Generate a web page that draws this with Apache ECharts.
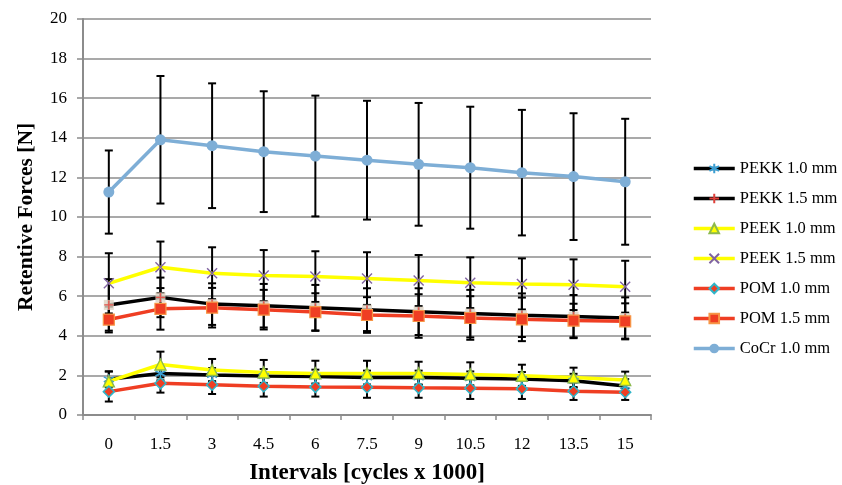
<!DOCTYPE html>
<html>
<head>
<meta charset="utf-8">
<script src="https://cdn.jsdelivr.net/npm/echarts@6/dist/echarts.min.js"></script>
<style>
  html, body { margin: 0; padding: 0; background: #fff; }
  #chart { width: 842px; height: 485px; }
</style>
</head>
<body>
<div id="chart"></div>
<script>
const categories = ["0", "1.5", "3", "4.5", "6", "7.5", "9", "10.5", "12", "13.5", "15"];

const pekk10 = [1.8, 2.1, 2.02, 1.97, 1.94, 1.89, 1.89, 1.85, 1.82, 1.73, 1.46];
const pekk10Sd = [0.4, 0.35, 0.35, 0.35, 0.35, 0.35, 0.35, 0.35, 0.35, 0.35, 0.35];
const pekk15 = [5.56, 5.94, 5.6, 5.52, 5.42, 5.32, 5.22, 5.12, 5.04, 4.97, 4.9];
const pekk15Sd = [1.3, 1.0, 1.05, 1.1, 1.15, 1.08, 1.18, 1.2, 1.1, 1.09, 1.04];
const peek10 = [1.7, 2.55, 2.27, 2.15, 2.1, 2.1, 2.1, 2.05, 1.98, 1.9, 1.77];
const peek10Sd = [0.5, 0.65, 0.56, 0.63, 0.64, 0.64, 0.59, 0.61, 0.56, 0.49, 0.42];
const peek15 = [6.65, 7.46, 7.16, 7.04, 6.99, 6.89, 6.79, 6.68, 6.62, 6.58, 6.48];
const peek15Sd = [1.52, 1.3, 1.31, 1.29, 1.28, 1.33, 1.29, 1.28, 1.29, 1.28, 1.31];
const pom10 = [1.18, 1.6, 1.53, 1.45, 1.42, 1.4, 1.37, 1.35, 1.32, 1.2, 1.15];
const pom10Sd = [0.5, 0.47, 0.47, 0.52, 0.49, 0.53, 0.5, 0.54, 0.51, 0.44, 0.39];
const pom15 = [4.82, 5.36, 5.42, 5.32, 5.2, 5.05, 5.0, 4.9, 4.83, 4.77, 4.73];
const pom15Sd = [0.65, 1.05, 1.0, 1.0, 0.95, 0.9, 1.1, 1.1, 1.1, 0.85, 0.91];
const cocr10 = [11.26, 13.9, 13.6, 13.3, 13.08, 12.87, 12.66, 12.49, 12.24, 12.04, 11.78];
const cocr10Sd = [2.1, 3.22, 3.15, 3.05, 3.05, 3.0, 3.1, 3.08, 3.17, 3.2, 3.18];

const yTicks = { min: 0, max: 20, interval: 2 };

const FONT = "'Liberation Serif', 'Times New Roman', serif";
const ASTERISK = "path://M5 0L5 10M0 2.5L10 7.5M0 7.5L10 2.5";
const PLUS = "path://M5 0L5 10M0 5L10 5";
const CROSS = "path://M0 0L10 10M10 0L0 10";

function errorSeries(values, sds) {
  return {
    type: "custom",
    silent: true,
    z: 1,
    data: values.map((v, i) => [i, v - sds[i], v + sds[i]]),
    encode: { x: 0, y: [1, 2] },
    renderItem: (params, api) => {
      const lo = api.coord([api.value(0), api.value(1)]);
      const hi = api.coord([api.value(0), api.value(2)]);
      const style = { stroke: "#000", lineWidth: 2 };
      return {
        type: "group",
        children: [
          { type: "line", shape: { x1: lo[0], y1: lo[1], x2: hi[0], y2: hi[1] }, style },
          { type: "line", shape: { x1: lo[0] - 4, y1: lo[1], x2: lo[0] + 4, y2: lo[1] }, style },
          { type: "line", shape: { x1: hi[0] - 4, y1: hi[1], x2: hi[0] + 4, y2: hi[1] }, style },
        ],
      };
    },
  };
}

function lineSeries(name, values, lineColor, symbol, size, itemStyle) {
  return {
    name,
    type: "line",
    z: 2,
    data: values,
    symbol,
    symbolSize: size,
    showAllSymbol: true,
    lineStyle: { color: lineColor, width: 3.5 },
    itemStyle,
    emphasis: { disabled: true },
  };
}

function overlay(values, symbol, size, itemStyle) {
  return {
    type: "scatter",
    z: 2,
    silent: true,
    data: values,
    symbol,
    symbolSize: size,
    itemStyle,
  };
}

const chart = echarts.init(document.getElementById("chart"), null, { renderer: "canvas" });

chart.setOption({
  animation: false,
  backgroundColor: "#fff",
  textStyle: { fontFamily: FONT },
  grid: { left: 83, right: 191, top: 19, bottom: 70, outerBoundsMode: "none" },
  legend: {
    orient: "vertical",
    left: 687,
    top: 155,
    itemGap: 13,
    itemWidth: 41,
    itemHeight: 12,
    lineStyle: { width: 3.5 },
    textStyle: { fontFamily: FONT, fontSize: 16.5, lineHeight: 17, color: "#000" },
    data: ["PEKK 1.0 mm", "PEKK 1.5 mm", "PEEK 1.0 mm", "PEEK 1.5 mm", "POM 1.0 mm", "POM 1.5 mm", "CoCr 1.0 mm"],
  },
  xAxis: {
    type: "category",
    data: categories,
    boundaryGap: true,
    name: "Intervals [cycles x 1000]",
    nameLocation: "middle",
    nameGap: 47,
    nameTextStyle: { fontFamily: FONT, fontSize: 23, fontWeight: "bold", color: "#000" },
    axisLine: { lineStyle: { color: "#8c8c8c", width: 2 } },
    axisTick: { show: true, length: 5, lineStyle: { color: "#8c8c8c", width: 1.5 } },
    axisLabel: { fontFamily: FONT, fontSize: 17, color: "#000", margin: 21 },
    splitLine: { show: false },
  },
  yAxis: {
    type: "value",
    min: yTicks.min,
    max: yTicks.max,
    interval: yTicks.interval,
    name: "Retentive Forces [N]",
    nameLocation: "middle",
    nameGap: 46,
    nameTextStyle: { fontFamily: FONT, fontSize: 21.5, fontWeight: "bold", color: "#000" },
    axisLine: { show: true, lineStyle: { color: "#8c8c8c", width: 2 } },
    axisTick: { show: true, length: 6, lineStyle: { color: "#8c8c8c", width: 1.5 } },
    axisLabel: { fontFamily: FONT, fontSize: 17, color: "#000", margin: 16 },
    splitLine: { lineStyle: { color: "#8c8c8c", width: 1.5 } },
  },
  series: [
    errorSeries(pekk10, pekk10Sd),
    errorSeries(pekk15, pekk15Sd),
    errorSeries(peek10, peek10Sd),
    errorSeries(peek15, peek15Sd),
    errorSeries(pom10, pom10Sd),
    errorSeries(pom15, pom15Sd),
    errorSeries(cocr10, cocr10Sd),
    lineSeries("PEKK 1.0 mm", pekk10, "#000", ASTERISK, 10,
      { color: "#3b9fd3", borderColor: "#3b9fd3", borderWidth: 1.6 }),
    lineSeries("PEKK 1.5 mm", pekk15, "#000", PLUS, 9,
      { color: "#e0403a", borderColor: "#e0403a", borderWidth: 1.4 }),
    overlay(pekk15, "rect", 10, { color: "#ddd2c2" }),
    overlay(pekk15, PLUS, 9, { color: "transparent", borderColor: "#e0403a", borderWidth: 1.4 }),
    lineSeries("PEEK 1.0 mm", peek10, "#ffff00", "triangle", 11,
      { color: "#ffff00", borderColor: "#8db94c", borderWidth: 1.4 }),
    lineSeries("PEEK 1.5 mm", peek15, "#ffff00", CROSS, 10,
      { color: "#8064a2", borderColor: "#8064a2", borderWidth: 1.4 }),
    lineSeries("POM 1.0 mm", pom10, "#ef3e23", "diamond", 11,
      { color: "#ef3e23", borderColor: "#2fb5c9", borderWidth: 1.5 }),
    lineSeries("POM 1.5 mm", pom15, "#ef3e23", "rect", 11,
      { color: "#ef3e23", borderColor: "#f79646", borderWidth: 1.2 }),
    lineSeries("CoCr 1.0 mm", cocr10, "#7eaed6", "circle", 11,
      { color: "#7eaed6", borderWidth: 0 }),
  ],
});
</script>
</body>
</html>
